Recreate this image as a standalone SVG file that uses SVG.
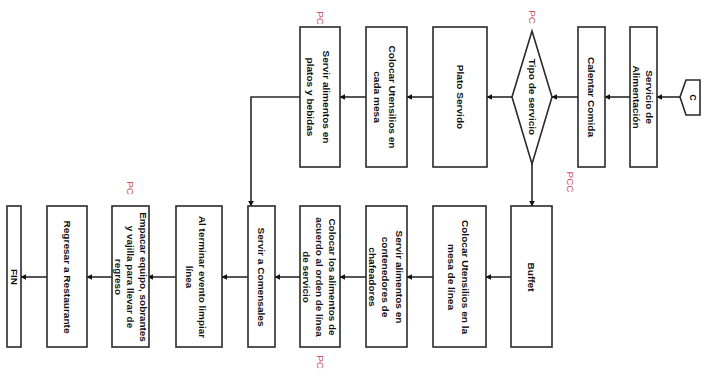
<svg xmlns="http://www.w3.org/2000/svg" width="703" height="384" viewBox="0 0 703 384">
  <style>
    .box { fill: #ffffff; stroke: #2a2a2a; stroke-width: 1.6; }
    .lbl { font-family: "Liberation Sans", Arial, sans-serif; font-size: 9px; font-weight: bold; fill: #111; text-anchor: middle; dominant-baseline: central; }
    .pc { font-family: "Liberation Sans", Arial, sans-serif; font-size: 9px; fill: #d4505e; text-anchor: middle; dominant-baseline: central; }
    .wire { fill: none; stroke: #2a2a2a; stroke-width: 1.6; }
  </style>
  <defs>
    <marker id="arrow" viewBox="0 0 10 10" refX="9" refY="5" markerWidth="6" markerHeight="6" markerUnits="userSpaceOnUse" orient="auto">
      <path d="M0,0 L10,5 L0,10 z" fill="#111"/>
    </marker>
  </defs>
  <rect width="703" height="384" fill="#ffffff"/>

  <!-- connectors -->
  <g id="connectors" class="wire" marker-end="url(#arrow)">
    <line x1="680" y1="97" x2="657" y2="97"/>
    <line x1="630" y1="97" x2="605" y2="97"/>
    <line x1="578" y1="97" x2="552" y2="97"/>
    <line x1="512" y1="97" x2="487" y2="97"/>
    <line x1="433" y1="97" x2="407" y2="97"/>
    <line x1="366" y1="97" x2="340" y2="97"/>
    <polyline points="300,97 251,97 251,206"/>
    <line x1="532" y1="164" x2="532" y2="206"/>
    <line x1="511" y1="277" x2="486" y2="277"/>
    <line x1="433" y1="277" x2="407" y2="277"/>
    <line x1="366" y1="277" x2="340" y2="277"/>
    <line x1="300" y1="277" x2="275" y2="277"/>
    <line x1="248" y1="277" x2="222" y2="277"/>
    <line x1="176" y1="277" x2="148" y2="277"/>
    <line x1="112" y1="277" x2="87" y2="277"/>
    <line x1="47" y1="277" x2="21" y2="277"/>
  </g>

  <!-- top row (labels run top to bottom, stretched along the text) -->
  <g id="inicio">
    <polygon class="box" points="680,97 686,80 700,80 700,115 686,115"/>
    <text class="lbl" x="693" y="97.5" transform="rotate(90 693 97.5)">C</text>
  </g>
  <g id="servicio-alimentacion">
    <rect class="box" x="630" y="27" width="27" height="140"/>
    <text class="lbl" transform="translate(643.5,97) rotate(90) scale(1.12,1)"><tspan x="0" y="-6.5">Servicio de</tspan><tspan x="0" y="6.5">Alimentación</tspan></text>
  </g>
  <g id="calentar-comida">
    <rect class="box" x="578" y="27" width="27" height="140"/>
    <text class="lbl" transform="translate(591.5,97) rotate(90) scale(1.12,1)">Calentar Comida</text>
  </g>
  <g id="tipo-servicio">
    <polygon class="box" points="532,31 552,97 532,164 512,97"/>
    <text class="lbl" transform="translate(532,97) rotate(90) scale(1.12,1)">Tipo de servicio</text>
  </g>
  <g id="plato-servido">
    <rect class="box" x="433" y="27" width="54" height="140"/>
    <text class="lbl" transform="translate(460,97) rotate(90) scale(1.12,1)">Plato Servido</text>
  </g>
  <g id="utensilios-mesa">
    <rect class="box" x="366" y="27" width="41" height="140"/>
    <text class="lbl" transform="translate(385,97) rotate(90) scale(1.12,1)"><tspan x="0" y="-7.5">Colocar Utensilios en</tspan><tspan x="0" y="7.5">cada mesa</tspan></text>
  </g>
  <g id="servir-platos">
    <rect class="box" x="300" y="27" width="40" height="140"/>
    <text class="lbl" transform="translate(319,97) rotate(90) scale(1.12,1)"><tspan x="0" y="-8">Servir alimentos en</tspan><tspan x="0" y="8">platos y bebidas</tspan></text>
  </g>

  <!-- bottom row -->
  <g id="buffet">
    <rect class="box" x="511" y="206" width="41" height="141"/>
    <text class="lbl" transform="translate(531.5,277) rotate(90) scale(1.12,1)">Buffet</text>
  </g>
  <g id="utensilios-linea">
    <rect class="box" x="433" y="206" width="53" height="141"/>
    <text class="lbl" transform="translate(459,277) rotate(90) scale(1.12,1)"><tspan x="0" y="-7">Colocar Utensilios en la</tspan><tspan x="0" y="7">mesa de línea</tspan></text>
  </g>
  <g id="servir-contenedores">
    <rect class="box" x="366" y="206" width="41" height="141"/>
    <text class="lbl" transform="translate(386,277) rotate(90) scale(1.12,1)"><tspan x="0" y="-13.5">Servir alimentos en</tspan><tspan x="0" y="0">contenedores de</tspan><tspan x="0" y="13.5">chafeadores</tspan></text>
  </g>
  <g id="orden-linea">
    <rect class="box" x="300" y="206" width="40" height="141"/>
    <text class="lbl" transform="translate(319.5,277) rotate(90) scale(1.1,1)"><tspan x="0" y="-13">Colocar los alimentos de</tspan><tspan x="0" y="0">acuerdo al orden de línea</tspan><tspan x="0" y="13">de servicio</tspan></text>
  </g>
  <g id="servir-comensales">
    <rect class="box" x="248" y="206" width="27" height="141"/>
    <text class="lbl" transform="translate(261.5,277) rotate(90) scale(1.12,1)">Servir a Comensales</text>
  </g>
  <g id="limpiar-linea">
    <rect class="box" x="176" y="206" width="46" height="141"/>
    <text class="lbl" transform="translate(196.5,277) rotate(90) scale(1.1,1)"><tspan x="0" y="-6.5">Al terminar evento limpiar</tspan><tspan x="0" y="6.5">línea</tspan></text>
  </g>
  <g id="empacar">
    <rect class="box" x="112" y="206" width="37" height="141"/>
    <text class="lbl" transform="translate(131,277) rotate(90) scale(1.1,1)"><tspan x="0" y="-12.5">Empacar equipo, sobrantes</tspan><tspan x="0" y="0">y vajilla para llevar de</tspan><tspan x="0" y="12.5">regreso</tspan></text>
  </g>
  <g id="regresar">
    <rect class="box" x="47" y="206" width="40" height="141"/>
    <text class="lbl" transform="translate(67,277) rotate(90) scale(1.12,1)">Regresar a Restaurante</text>
  </g>
  <g id="fin">
    <rect class="box" x="7" y="206" width="14" height="141"/>
    <text class="lbl" transform="translate(14,277) rotate(90) scale(1.12,1)">FIN</text>
  </g>

  <!-- control point marks -->
  <g id="puntos-control">
    <text class="pc" transform="translate(320,18) rotate(90) scale(1.1,1)">PC</text>
    <text class="pc" transform="translate(532,17) rotate(90) scale(1.1,1)">PC</text>
    <text class="pc" transform="translate(570,182) rotate(90) scale(1.1,1)">PCC</text>
    <text class="pc" transform="translate(130,188) rotate(90) scale(1.1,1)">PC</text>
    <text class="pc" transform="translate(320,362) rotate(90) scale(1.1,1)">PC</text>
  </g>
</svg>
